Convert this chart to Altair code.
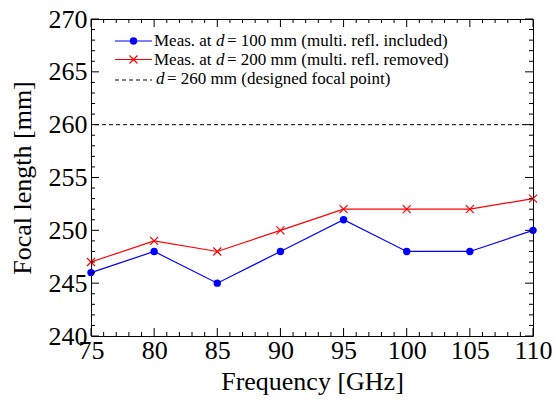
import altair as alt
import pandas as pd

freq = [75, 80, 85, 90, 95, 100, 105, 110]
meas_100 = [246, 248, 245, 248, 251, 248, 248, 250]
meas_200 = [247, 249, 248, 250, 252, 252, 252, 253]
design_focal = 260

x_major = [75, 80, 85, 90, 95, 100, 105, 110]
x_minor = [v for v in range(75, 111) if v % 5 != 0]
y_major = [240, 245, 250, 255, 260, 265, 270]
y_minor = [v for v in range(240, 271) if v % 5 != 0]

W, H = 442, 317
FONT = "Liberation Serif, Times New Roman, serif"

xs = alt.Scale(domain=[75, 110], nice=False, zero=False)
ys = alt.Scale(domain=[240, 270], nice=False, zero=False)

df1 = pd.DataFrame({"f": freq, "v": meas_100})
df2 = pd.DataFrame({"f": freq, "v": meas_200})

xaxis = alt.Axis(values=x_major, ticks=False, domain=False, grid=False,
                 labelFont=FONT, labelFontSize=26, labelColor="black",
                 labelPadding=1, labelFlush=False, labelOverlap=False,
                 title="Frequency [GHz]", titleFont=FONT, titleFontSize=26,
                 titleFontWeight="normal", titleColor="black", titlePadding=5)
yaxis = alt.Axis(values=y_major, ticks=False, domain=False, grid=False,
                 labelFont=FONT, labelFontSize=26, labelColor="black",
                 labelPadding=4, labelFlush=False, labelOverlap=False,
                 title="Focal length [mm]", titleFont=FONT, titleFontSize=26,
                 titleFontWeight="normal", titleColor="black", titlePadding=13)

def X(field):
    return alt.X(field, scale=xs, axis=xaxis)

def Y(field):
    return alt.Y(field, scale=ys, axis=yaxis)

blue_line = alt.Chart(df1).mark_line(color="#0000ff", strokeWidth=1.2).encode(
    x=X("f:Q"), y=Y("v:Q"))
blue_pts = alt.Chart(df1).mark_point(color="#0000ff", filled=True, size=55, opacity=1).encode(
    x=X("f:Q"), y=Y("v:Q"))
red_line = alt.Chart(df2).mark_line(color="#ff0000", strokeWidth=1.2).encode(
    x=X("f:Q"), y=Y("v:Q"))
XSHAPE = "M-1,-1L1,1M-1,1L1,-1"
red_pts = alt.Chart(df2).mark_point(color="#ff0000", shape=XSHAPE, size=64,
                                    filled=False, strokeWidth=1.2, opacity=1).encode(
    x=X("f:Q"), y=Y("v:Q"))

design = alt.Chart(pd.DataFrame({"v": [design_focal]})).mark_rule(
    color="black", strokeWidth=1, strokeDash=[4, 3]).encode(y=Y("v:Q"))

def xticks(vals, length):
    d = pd.DataFrame({"t": vals})
    b = alt.Chart(d).mark_rule(color="black", strokeWidth=1).encode(
        x=X("t:Q"), y=alt.value(H), y2=alt.value(H - length))
    t = alt.Chart(d).mark_rule(color="black", strokeWidth=1).encode(
        x=X("t:Q"), y=alt.value(0), y2=alt.value(length))
    return [b, t]

def yticks(vals, length):
    d = pd.DataFrame({"t": vals})
    l = alt.Chart(d).mark_rule(color="black", strokeWidth=1).encode(
        y=Y("t:Q"), x=alt.value(0), x2=alt.value(length))
    r = alt.Chart(d).mark_rule(color="black", strokeWidth=1).encode(
        y=Y("t:Q"), x=alt.value(W), x2=alt.value(W - length))
    return [l, r]

ticks = xticks(x_major, 8) + xticks(x_minor, 4) + yticks(y_major, 8) + yticks(y_minor, 4)

# manual legend
one = pd.DataFrame({"a": [0]})
LX0, LX1 = 24, 61
rows = [22, 40.5, 60]
leg = []
leg.append(alt.Chart(one).mark_rule(color="#0000ff", strokeWidth=1.2).encode(
    x=alt.value(LX0), x2=alt.value(LX1), y=alt.value(rows[0])))
leg.append(alt.Chart(one).mark_point(color="#0000ff", filled=True, size=55, opacity=1).encode(
    x=alt.value((LX0 + LX1) / 2), y=alt.value(rows[0])))
leg.append(alt.Chart(one).mark_rule(color="#ff0000", strokeWidth=1.2).encode(
    x=alt.value(LX0), x2=alt.value(LX1), y=alt.value(rows[1])))
leg.append(alt.Chart(one).mark_point(color="#ff0000", shape=XSHAPE, size=64, filled=False,
                                     strokeWidth=1.2, opacity=1).encode(
    x=alt.value((LX0 + LX1) / 2), y=alt.value(rows[1])))
leg.append(alt.Chart(one).mark_rule(color="black", strokeWidth=1, strokeDash=[4, 3]).encode(
    x=alt.value(LX0), x2=alt.value(LX1), y=alt.value(rows[2] + 1)))

FS = 17
def seg(text, x, y, italic=False):
    return alt.Chart(one).mark_text(text=text, font=FONT, fontSize=FS, color="black",
                                    align="left", baseline="middle",
                                    fontStyle="italic" if italic else "normal").encode(
        x=alt.value(x), y=alt.value(y))

TX = 63
D_X = 125
EQ_X = 136
leg += [seg("Meas. at", TX, rows[0]), seg("d", D_X, rows[0], True),
        seg("= 100 mm (multi. refl. included)", EQ_X, rows[0])]
leg += [seg("Meas. at", TX, rows[1]), seg("d", D_X, rows[1], True),
        seg("= 200 mm (multi. refl. removed)", EQ_X, rows[1])]
leg += [seg("d", 65, rows[2], True), seg("= 260 mm (designed focal point)", 76, rows[2])]

chart = alt.layer(design, red_line, blue_line, red_pts, blue_pts, *ticks, *leg).properties(
    width=W, height=H,
    padding={"left": 91, "top": 19, "right": 555 - 91 - W, "bottom": 403 - 19 - H},
    autosize=alt.AutoSizeParams(type="none"),
    background="white",
).configure_view(stroke="black", strokeWidth=1)

chart.save("out.html", embed_options={"renderer": "svg", "actions": False})
